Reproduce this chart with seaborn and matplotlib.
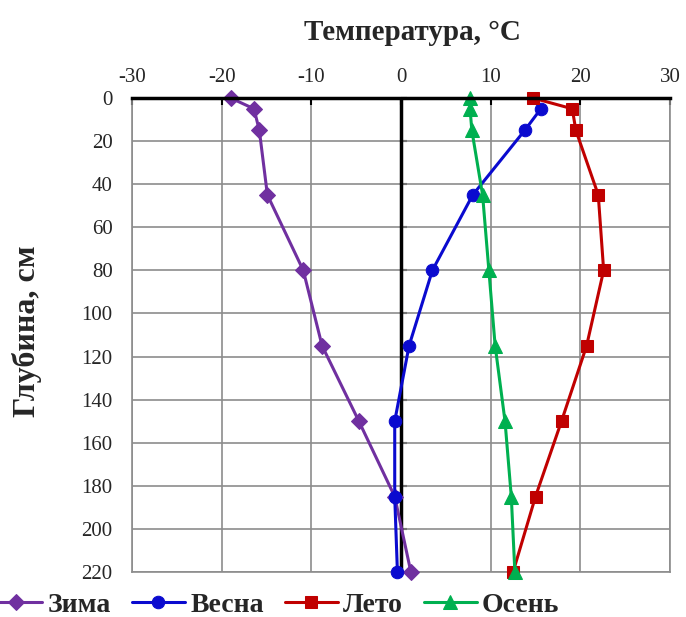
import matplotlib
matplotlib.use("Agg")
import matplotlib.pyplot as plt
import seaborn as sns
import pandas as pd

# Soil temperature profiles by season
depths = [0, 5, 15, 45, 80, 115, 150, 185, 220]
depths_spring = [5, 15, 45, 80, 115, 150, 185, 220]
winter = [-19.0, -16.4, -15.8, -14.9, -10.9, -8.8, -4.7, -0.7, 1.1]
spring = [15.6, 13.8, 8.0, 3.5, 0.9, -0.7, -0.7, -0.4]
summer = [14.7, 19.1, 19.5, 22.0, 22.6, 20.7, 17.9, 15.0, 12.5]
autumn = [7.7, 7.7, 7.9, 9.1, 9.8, 10.5, 11.6, 12.3, 12.7]

season_names = ["Зима", "Весна", "Лето", "Осень"]
x_ticks = [-30, -20, -10, 0, 10, 20, 30]
y_ticks = list(range(0, 221, 20))

sns.set_theme(style="white")
plt.rcParams["font.family"] = ["Liberation Serif", "DejaVu Serif"]
plt.rcParams["axes.unicode_minus"] = False

fig = plt.figure(figsize=(6.86, 6.17), dpi=100)
ax = fig.add_axes([132 / 686, 1 - 572 / 617, (670 - 132) / 686, (572 - 98) / 617])

series = [
    (season_names[0], depths, winter, "#7030A0", "D", 8),
    (season_names[1], depths_spring, spring, "#0A0ACF", "o", 9),
    (season_names[2], depths, summer, "#C00000", "s", 9),
    (season_names[3], depths, autumn, "#00B050", "^", 10),
]

for name, d, t, color, marker, ms in series:
    df = pd.DataFrame({"temp": t, "depth": d})
    sns.lineplot(data=df, x="temp", y="depth", sort=False, estimator=None,
                 color=color, marker=marker, markersize=ms, linewidth=2.2,
                 markeredgecolor=color, label=name, ax=ax, clip_on=False,
                 zorder=3)

ax.set_xlim(-30, 30)
ax.set_ylim(220, 0)
ax.set_xticks(x_ticks)
ax.set_yticks(y_ticks)
ax.xaxis.tick_top()
ax.xaxis.set_label_position("top")
ax.grid(True, color="#8c8c8c", linewidth=1.2)
for side in ["left", "right", "bottom"]:
    ax.spines[side].set_color("#8c8c8c")
    ax.spines[side].set_linewidth(1.2)
ax.spines["top"].set_color("black")
ax.spines["top"].set_linewidth(2.5)
ax.spines["top"].set_zorder(4)

ax.tick_params(axis="x", which="both", top=True, bottom=False, direction="in",
               length=5, width=1.5, color="black", labelsize=15, pad=8)
ax.tick_params(axis="y", which="both", left=False, labelsize=15, pad=8)

# Vertical axis line crossing at 0 °C, with its tick marks
ax.axvline(0, color="black", linewidth=2.5, zorder=2.5)
sec = ax.secondary_yaxis(0.5)
sec.set_yticks(y_ticks)
sec.set_yticklabels([])
sec.spines["left"].set_visible(False)
sec.tick_params(axis="y", direction="out", length=4, width=1.5, color="black")

ax.set_xlabel("Температура, °C", fontsize=21, fontweight="bold")
ax.xaxis.set_label_coords(0.522, 1.122)
ax.set_ylabel("Глубина, см", fontsize=23, fontweight="bold")
ax.yaxis.set_label_coords(-0.168, 0.508)

ax.legend(loc="center", bbox_to_anchor=(0.265, -0.07), ncol=4,
          frameon=False, prop={"size": 20, "weight": "bold"},
          handlelength=1.9, columnspacing=0.75, handletextpad=0.2,
          borderaxespad=0)

fig.savefig("out.png", dpi=100)
